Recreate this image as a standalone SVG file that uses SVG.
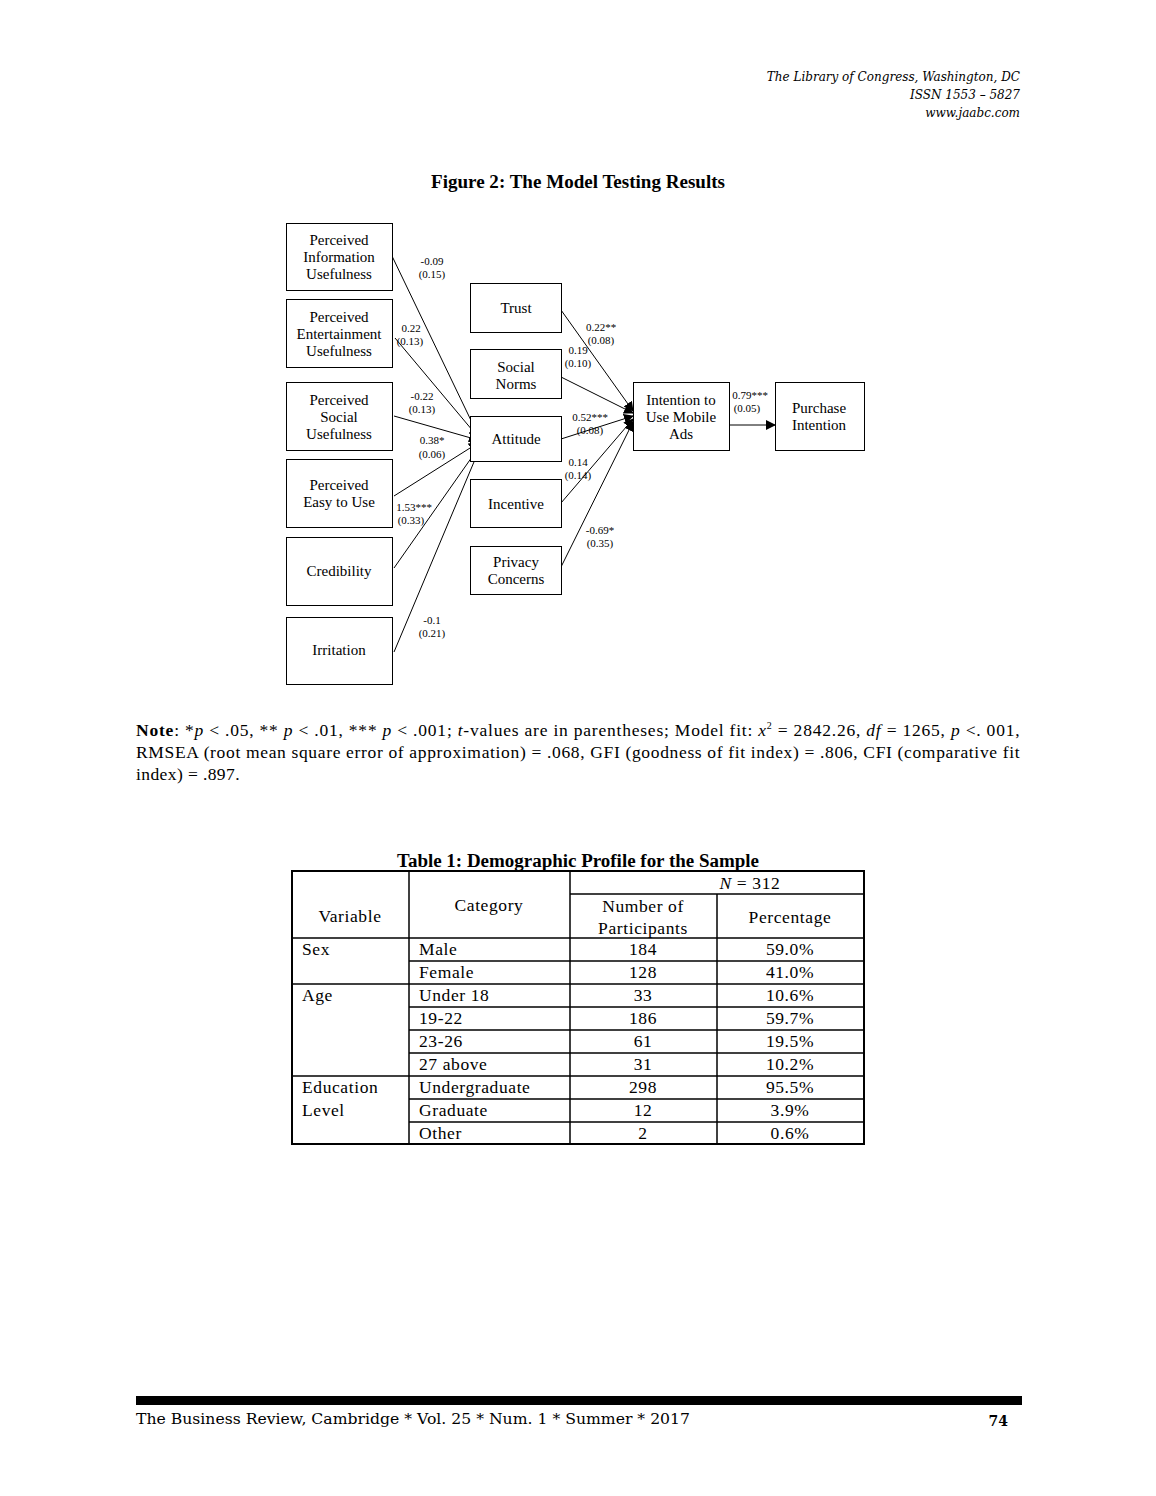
<svg xmlns="http://www.w3.org/2000/svg" width="1156" height="1496" viewBox="0 0 1156 1496">
<style>
.bg{fill:#fff}
.box{fill:#fff;stroke:#000;stroke-width:1}
.nt{font-family:"Liberation Serif",serif;font-size:15px;text-anchor:middle;fill:#000}
.lbl{font-family:"Liberation Serif",serif;font-size:11px;text-anchor:middle;fill:#000}
.edge{stroke:#000;stroke-width:1;fill:none;marker-end:url(#ah)}
.hdr{font-family:"DejaVu Serif","Liberation Serif",serif;font-style:italic;font-size:12px;text-anchor:end;fill:#000}
.ttl{font-family:"Liberation Serif",serif;font-weight:bold;font-size:18px;text-anchor:middle;fill:#000}
.note{font-family:"Liberation Serif",serif;font-size:17.5px;fill:#000;letter-spacing:0.4px}
.tt{font-family:"Liberation Serif",serif;font-size:17.5px;letter-spacing:0.6px;fill:#000}
.c{text-anchor:middle}
.tl{stroke:#000;stroke-width:1.5;fill:none}
.foot{font-family:"DejaVu Serif","Liberation Serif",serif;font-size:14px;fill:#000}
</style>
<defs>
<marker id="ah" viewBox="0 0 10 10" refX="9" refY="5" markerWidth="10" markerHeight="10" markerUnits="userSpaceOnUse" orient="auto">
<path d="M0,0 L10,5 L0,10 z" fill="#000"/>
</marker>
</defs>
<rect class="bg" x="0" y="0" width="1156" height="1496"/>

<g id="header">
<text class="hdr" x="1020" y="81">The Library of Congress, Washington, DC</text>
<text class="hdr" x="1020" y="99">ISSN 1553 – 5827</text>
<text class="hdr" x="1020" y="117">www.jaabc.com</text>
</g>

<text class="ttl" x="578" y="188" textLength="294" lengthAdjust="spacingAndGlyphs">Figure 2: The Model Testing Results</text>

<g id="connectors">
<line class="edge" x1="392" y1="256" x2="478" y2="435"/>
<line class="edge" x1="395" y1="338" x2="478" y2="437"/>
<line class="edge" x1="394" y1="416" x2="478" y2="440"/>
<line class="edge" x1="394" y1="496" x2="478" y2="443"/>
<line class="edge" x1="394" y1="568" x2="479" y2="447"/>
<line class="edge" x1="394" y1="652" x2="479" y2="450"/>
<line class="edge" x1="561" y1="310" x2="633" y2="411"/>
<line class="edge" x1="561" y1="377" x2="633" y2="413"/>
<line class="edge" x1="561" y1="439" x2="633" y2="416"/>
<line class="edge" x1="561" y1="503" x2="633" y2="419"/>
<line class="edge" x1="561" y1="567" x2="633" y2="422"/>
<line class="edge" x1="729" y1="425" x2="775" y2="425"/>
</g>

<g id="edge-labels">
<text class="lbl" x="432" y="265">-0.09</text><text class="lbl" x="432" y="278">(0.15)</text>
<text class="lbl" x="411" y="332">0.22</text><text class="lbl" x="410" y="345">(0.13)</text>
<text class="lbl" x="422" y="400">-0.22</text><text class="lbl" x="422" y="413">(0.13)</text>
<text class="lbl" x="432" y="444">0.38*</text><text class="lbl" x="432" y="458">(0.06)</text>
<text class="lbl" x="414" y="511">1.53***</text><text class="lbl" x="411" y="524">(0.33)</text>
<text class="lbl" x="432" y="624">-0.1</text><text class="lbl" x="432" y="637">(0.21)</text>
<text class="lbl" x="601" y="331">0.22**</text><text class="lbl" x="601" y="344">(0.08)</text>
<text class="lbl" x="578" y="354">0.19</text><text class="lbl" x="578" y="367">(0.10)</text>
<text class="lbl" x="590" y="421">0.52***</text><text class="lbl" x="590" y="434">(0.08)</text>
<text class="lbl" x="578" y="466">0.14</text><text class="lbl" x="578" y="479">(0.14)</text>
<text class="lbl" x="600" y="534">-0.69*</text><text class="lbl" x="600" y="547">(0.35)</text>
<text class="lbl" x="750" y="399">0.79***</text><text class="lbl" x="747" y="412">(0.05)</text>
</g>

<g id="n-piu"><rect class="box" x="286.5" y="223.5" width="106" height="67"/>
<text class="nt" x="339" y="245">Perceived</text><text class="nt" x="339" y="262">Information</text><text class="nt" x="339" y="279">Usefulness</text></g>
<g id="n-peu"><rect class="box" x="286.5" y="299.5" width="106" height="68"/>
<text class="nt" x="339" y="322">Perceived</text><text class="nt" x="339" y="339">Entertainment</text><text class="nt" x="339" y="356">Usefulness</text></g>
<g id="n-psu"><rect class="box" x="286.5" y="382.5" width="106" height="68"/>
<text class="nt" x="339" y="405">Perceived</text><text class="nt" x="339" y="422">Social</text><text class="nt" x="339" y="439">Usefulness</text></g>
<g id="n-peou"><rect class="box" x="286.5" y="459.5" width="106" height="68"/>
<text class="nt" x="339" y="490">Perceived</text><text class="nt" x="339" y="507">Easy to Use</text></g>
<g id="n-cred"><rect class="box" x="286.5" y="537.5" width="106" height="68"/>
<text class="nt" x="339" y="576">Credibility</text></g>
<g id="n-irr"><rect class="box" x="286.5" y="617.5" width="106" height="67"/>
<text class="nt" x="339" y="655">Irritation</text></g>

<g id="n-trust"><rect class="box" x="470.5" y="283.5" width="91" height="49"/>
<text class="nt" x="516" y="313">Trust</text></g>
<g id="n-sn"><rect class="box" x="470.5" y="349.5" width="91" height="49"/>
<text class="nt" x="516" y="372">Social</text><text class="nt" x="516" y="389">Norms</text></g>
<g id="n-att"><rect class="box" x="470.5" y="416.5" width="91" height="45"/>
<text class="nt" x="516" y="444">Attitude</text></g>
<g id="n-inc"><rect class="box" x="470.5" y="479.5" width="91" height="48"/>
<text class="nt" x="516" y="509">Incentive</text></g>
<g id="n-pc"><rect class="box" x="470.5" y="546.5" width="91" height="48"/>
<text class="nt" x="516" y="567">Privacy</text><text class="nt" x="516" y="584">Concerns</text></g>

<g id="n-int"><rect class="box" x="633.5" y="382.5" width="96" height="68"/>
<text class="nt" x="681" y="405">Intention to</text><text class="nt" x="681" y="422">Use Mobile</text><text class="nt" x="681" y="439">Ads</text></g>
<g id="n-pi"><rect class="box" x="775.5" y="382.5" width="89" height="68"/>
<text class="nt" x="819" y="413">Purchase</text><text class="nt" x="819" y="430">Intention</text></g>

<g id="note">
<text class="note" x="136" y="736" textLength="884" lengthAdjust="spacing"><tspan font-weight="bold">Note</tspan>: *<tspan font-style="italic">p</tspan> &lt; .05, ** <tspan font-style="italic">p</tspan> &lt; .01, *** <tspan font-style="italic">p</tspan> &lt; .001; <tspan font-style="italic">t</tspan>-values are in parentheses; Model fit: <tspan font-style="italic">x</tspan><tspan font-size="10" dy="-7">2</tspan><tspan dy="7"> = 2842.26, </tspan><tspan font-style="italic">df</tspan> = 1265, <tspan font-style="italic">p</tspan> &lt;. 001,</text>
<text class="note" x="136" y="758" textLength="884" lengthAdjust="spacing">RMSEA (root mean square error of approximation) = .068, GFI (goodness of fit index) = .806, CFI (comparative fit</text>
<text class="note" x="136" y="780">index) = .897.</text>
</g>

<g id="table">
<text class="ttl" x="578" y="867" textLength="362" lengthAdjust="spacingAndGlyphs">Table 1: Demographic Profile for the Sample</text>
<rect x="292" y="871" width="572" height="273" fill="none" stroke="#000" stroke-width="2"/>
<line class="tl" x1="409" y1="871" x2="409" y2="1144"/>
<line class="tl" x1="570" y1="871" x2="570" y2="1144"/>
<line class="tl" x1="717" y1="894" x2="717" y2="1144"/>
<line class="tl" x1="570" y1="894" x2="864" y2="894"/>
<line class="tl" x1="292" y1="938" x2="864" y2="938"/>
<line class="tl" x1="409" y1="961" x2="864" y2="961"/>
<line class="tl" x1="292" y1="984" x2="864" y2="984"/>
<line class="tl" x1="409" y1="1007" x2="864" y2="1007"/>
<line class="tl" x1="409" y1="1030" x2="864" y2="1030"/>
<line class="tl" x1="409" y1="1053" x2="864" y2="1053"/>
<line class="tl" x1="292" y1="1076" x2="864" y2="1076"/>
<line class="tl" x1="409" y1="1099" x2="864" y2="1099"/>
<line class="tl" x1="409" y1="1122" x2="864" y2="1122"/>

<text class="tt c" x="750" y="889"><tspan font-style="italic">N</tspan> = 312</text>
<text class="tt c" x="350" y="922">Variable</text>
<text class="tt c" x="489" y="911">Category</text>
<text class="tt c" x="643" y="912">Number of</text>
<text class="tt c" x="643" y="934">Participants</text>
<text class="tt c" x="790" y="923">Percentage</text>

<text class="tt" x="302" y="955">Sex</text>
<text class="tt" x="302" y="1001">Age</text>
<text class="tt" x="302" y="1093">Education</text>
<text class="tt" x="302" y="1116">Level</text>

<text class="tt" x="419" y="955">Male</text><text class="tt c" x="643" y="955">184</text><text class="tt c" x="790" y="955">59.0%</text>
<text class="tt" x="419" y="978">Female</text><text class="tt c" x="643" y="978">128</text><text class="tt c" x="790" y="978">41.0%</text>
<text class="tt" x="419" y="1001">Under 18</text><text class="tt c" x="643" y="1001">33</text><text class="tt c" x="790" y="1001">10.6%</text>
<text class="tt" x="419" y="1024">19-22</text><text class="tt c" x="643" y="1024">186</text><text class="tt c" x="790" y="1024">59.7%</text>
<text class="tt" x="419" y="1047">23-26</text><text class="tt c" x="643" y="1047">61</text><text class="tt c" x="790" y="1047">19.5%</text>
<text class="tt" x="419" y="1070">27 above</text><text class="tt c" x="643" y="1070">31</text><text class="tt c" x="790" y="1070">10.2%</text>
<text class="tt" x="419" y="1093">Undergraduate</text><text class="tt c" x="643" y="1093">298</text><text class="tt c" x="790" y="1093">95.5%</text>
<text class="tt" x="419" y="1116">Graduate</text><text class="tt c" x="643" y="1116">12</text><text class="tt c" x="790" y="1116">3.9%</text>
<text class="tt" x="419" y="1139">Other</text><text class="tt c" x="643" y="1139">2</text><text class="tt c" x="790" y="1139">0.6%</text>
</g>

<g id="footer">
<rect x="136" y="1396" width="886" height="9" fill="#000"/>
<text class="foot" x="136" y="1424" textLength="554" lengthAdjust="spacingAndGlyphs">The Business Review, Cambridge * Vol. 25 * Num. 1 * Summer * 2017</text>
<text class="foot" x="1008" y="1426" text-anchor="end" font-weight="bold" font-size="16">74</text>
</g>
</svg>
